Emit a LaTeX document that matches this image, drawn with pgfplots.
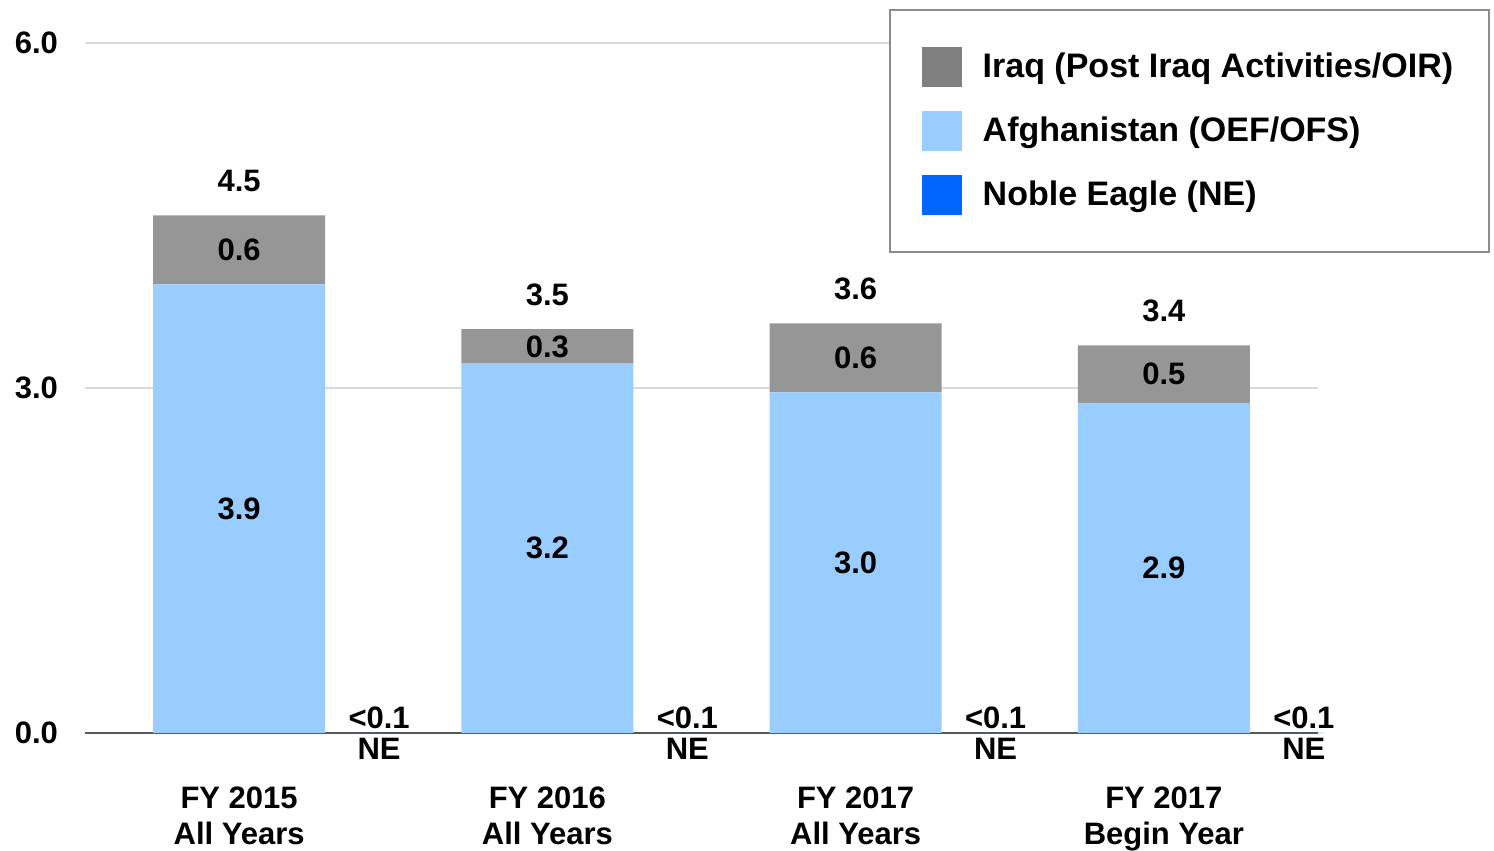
\documentclass[border=0pt]{standalone}
\usepackage{pgfplots}
\pgfplotsset{compat=1.18}
\usepackage{fontspec}
\setmainfont{Liberation Sans}
\definecolor{iraq}{HTML}{969696}
\definecolor{iraqleg}{HTML}{808080}
\definecolor{afg}{HTML}{99CCFF}
\definecolor{ne}{HTML}{0066FF}
\definecolor{gridc}{HTML}{D9D9D9}
\newcommand{\lbl}{\fontsize{15.5}{18}\selectfont\bfseries}
\begin{document}
\begin{tikzpicture}
\begin{axis}[
  scale only axis,
  width=616.5pt, height=345pt,
  xmin=-0.5, xmax=3.5, ymin=0, ymax=6,
  ybar stacked,
  bar width=86pt,
  axis x line*=bottom,
  axis y line*=left,
  axis line style={-, draw=black!65, line width=0.8pt},
  y axis line style={draw=none},
  xtick={0,1,2,3},
  xticklabels={{FY 2015\\All Years},{FY 2016\\All Years},{FY 2017\\All Years},{FY 2017\\Begin Year}},
  xtick style={draw=none},
  xticklabel style={align=center, font=\lbl, yshift=-23.5pt},
  ytick={0,3,6},
  ymajorgrids,
  major grid style={draw=gridc, line width=1pt},
  ytick style={draw=none},
  yticklabel style={font=\lbl, anchor=east, xshift=-10pt},
  yticklabel={\pgfmathprintnumber[fixed, fixed zerofill, precision=1, assume math mode=true]{\tick}},
  reverse legend,
  legend cell align=left,
  legend style={at={(0.652,1.049)}, anchor=north west, draw=black!45, line width=0.8pt,
    fill=white, inner xsep=16pt, inner ysep=18.5pt, row sep=12pt,
    font=\fontsize{17}{20}\selectfont\bfseries},
  clip=false,
]
% Noble Eagle (bottom of stack, shifted beside main bars)
\addplot+[fill=ne, draw=none, bar shift=70pt, bar width=20pt,
  point meta=explicit symbolic, nodes near coords,
  every node near coord/.style={font=\lbl, anchor=south, xshift=70pt, yshift=-1.5pt, black},
  legend image code/.code={\fill[ne] (0pt,-10pt) rectangle (20pt,10pt); \path (28.5pt,0pt);}]
  coordinates {(0,0.0005)[<0.1] (1,0.0005)[<0.1] (2,0.0005)[<0.1] (3,0.0005)[<0.1]};
\addlegendentry{Noble Eagle (NE)}
% NE labels below axis
\addplot+[forget plot, fill=none, draw=none, bar shift=70pt, bar width=20pt,
  point meta=explicit symbolic, nodes near coords,
  every node near coord/.style={font=\lbl, anchor=north, xshift=70pt, yshift=1pt, black}]
  coordinates {(0,0.001)[NE] (1,0.001)[NE] (2,0.001)[NE] (3,0.001)[NE]};
% Afghanistan
\addplot+[fill=afg, draw=none,
  point meta=explicit symbolic, nodes near coords,
  every node near coord/.style={font=\lbl, anchor=center, black},
  legend image code/.code={\fill[afg] (0pt,-10pt) rectangle (20pt,10pt); \path (28.5pt,0pt);}]
  coordinates {(0,3.90)[3.9] (1,3.21)[3.2] (2,2.96)[3.0] (3,2.87)[2.9]};
\addlegendentry{Afghanistan (OEF/OFS)}
% Iraq
\addplot+[fill=iraq, draw=none,
  point meta=explicit symbolic, nodes near coords,
  every node near coord/.style={font=\lbl, anchor=center, black},
  legend image code/.code={\fill[iraqleg] (0pt,-10pt) rectangle (20pt,10pt); \path (28.5pt,0pt);}]
  coordinates {(0,0.60)[0.6] (1,0.30)[0.3] (2,0.60)[0.6] (3,0.50)[0.5]};
\addlegendentry{Iraq (Post Iraq Activities/OIR)}
% Totals
\addplot+[forget plot, fill=none, draw=none,
  point meta=explicit symbolic, nodes near coords,
  every node near coord/.style={font=\lbl, anchor=south, yshift=8pt, black}]
  coordinates {(0,0.001)[4.5] (1,0.001)[3.5] (2,0.001)[3.6] (3,0.001)[3.4]};
\end{axis}
\pgfresetboundingbox
\path[use as bounding box] (-42.5pt,-59pt) rectangle (704.5pt,366.5pt);
\end{tikzpicture}
\end{document}
